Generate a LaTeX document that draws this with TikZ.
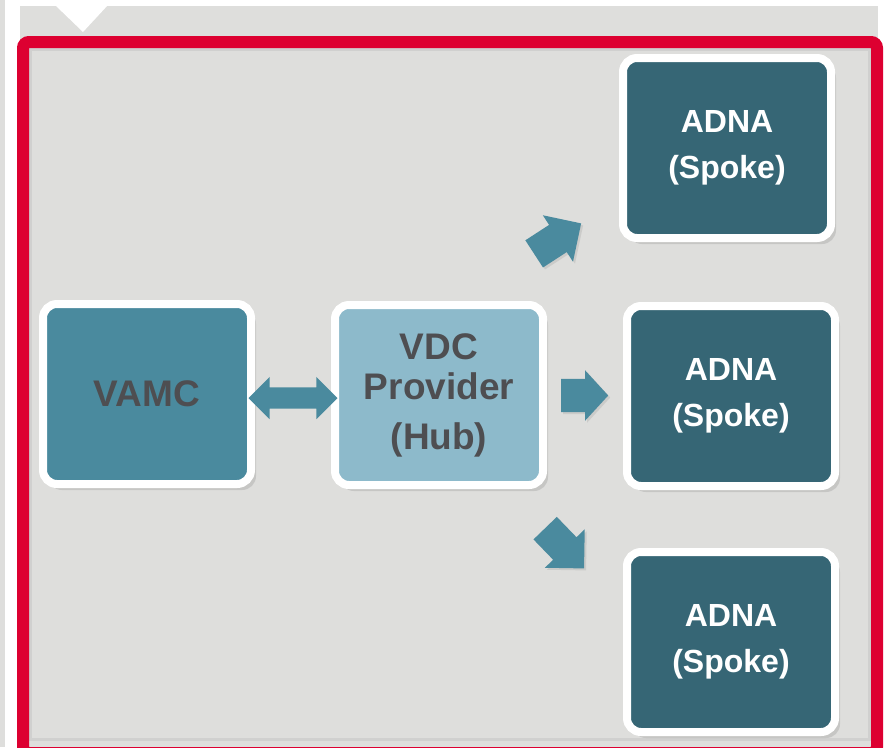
\documentclass[tikz,border=0pt]{standalone}
\usepackage{fontspec}
\setmainfont{Liberation Sans}
\usetikzlibrary{shapes.arrows,shadows,calc}

\definecolor{panelgrey}{RGB}{222,222,220}
\definecolor{framered}{RGB}{221,0,49}
\definecolor{vamcteal}{RGB}{74,138,158}
\definecolor{hubblue}{RGB}{141,186,203}
\definecolor{spoketeal}{RGB}{54,102,117}
\definecolor{labelgrey}{RGB}{78,78,81}

\begin{document}
\begin{tikzpicture}[x=1pt,y=-1pt,
  site/.style={draw=white, line width=8pt, rounded corners=14pt,
    minimum width=208pt, minimum height=180pt, inner sep=0pt, align=center,
    text=labelgrey, font=\bfseries\fontsize{37}{40}\selectfont,
    drop shadow={shadow xshift=5pt, shadow yshift=-6pt, opacity=.25}},
  spoke/.style={site, fill=spoketeal, text=white,
    font=\bfseries\fontsize{32}{46}\selectfont},
  fatarrow/.style={single arrow, fill=vamcteal, draw=none, anchor=tail,
    minimum width=0pt, inner xsep=0pt,
    drop shadow={shadow xshift=2pt, shadow yshift=-2pt, opacity=.2}}]

\useasboundingbox (0,0) rectangle (888,747);

%draws background, panel and frame
\fill[white] (0,0) rectangle (888,747);
\fill[panelgrey] (0,0) rectangle (5,747);
\fill[panelgrey] (20,6) rectangle (878,747);
\fill[white] (55,5) -- (108,5) -- (83,32) -- cycle;
\draw[black, opacity=.06, line width=3pt] (30.5,49.5) rectangle (869.5,739.5);
\draw[framered, line width=12pt, rounded corners=6pt] (23,42) rectangle (877,753);

%draw sites
\node[site, fill=vamcteal] (vamc) at (147,394) {VAMC};
\node[site, fill=hubblue] (hub) at (439,395) {VDC\\Provider\\[10pt](Hub)};
\node[spoke] (spokea) at (727,148) {ADNA\\(Spoke)};
\node[spoke] (spokeb) at (731,396) {ADNA\\(Spoke)};
\node[spoke] (spokec) at (731,642) {ADNA\\(Spoke)};

%draw arrows
\node[double arrow, fill=vamcteal, minimum width=0pt, inner xsep=0pt,
  inner ysep=10.5pt, double arrow head extend=10.5pt, minimum height=89pt]
  (link) at ($(vamc.east)!.5!(hub.west)+(0,3.5)$) {};
\node[fatarrow, inner ysep=16.5pt, single arrow head extend=8.5pt,
  single arrow tip angle=95, minimum height=47pt] (toa) at (561,395.5) {};
\node[fatarrow, rotate=33, inner ysep=16pt, single arrow head extend=11.5pt,
  minimum height=56pt] (tob) at (534,254) {};
\node[fatarrow, rotate=-46, inner ysep=16pt, single arrow head extend=11.5pt,
  minimum height=56pt] (toc) at (545,528) {};
\end{tikzpicture}
\end{document}
